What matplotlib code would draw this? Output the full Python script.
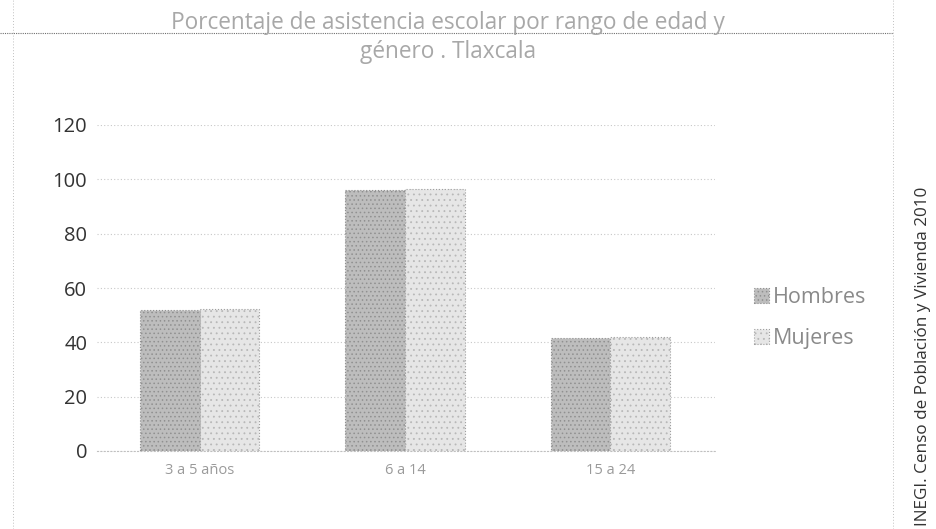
import matplotlib
matplotlib.use("Agg")
import matplotlib.pyplot as plt
import numpy as np
from matplotlib.lines import Line2D

categories = ["3 a 5 años", "6 a 14", "15 a 24"]
hombres = [51.9, 96.1, 41.5]
mujeres = [52.2, 96.5, 42.1]
yticks = [0, 20, 40, 60, 80, 100, 120]
title_l1 = "Porcentaje de asistencia escolar por rango de edad y"
title_l2 = "género . Tlaxcala"
source = "INEGI. Censo de Población y Vivienda 2010"

plt.rcParams['font.family'] = ['Open Sans', 'DejaVu Sans']
plt.rcParams['hatch.linewidth'] = 0.6

W, H = 936, 529
fig = plt.figure(figsize=(W / 100, H / 100), dpi=100)
fig.patch.set_facecolor("white")

ax = fig.add_axes([97 / W, (H - 451) / H, (715 - 97) / W, (451 - 125) / H])
x = np.arange(len(categories))
bw = 0.29
plt.rcParams['hatch.color'] = '#8a8a8a'
b1 = ax.bar(x - bw / 2, hombres, bw, color="#bdbdbd", edgecolor="#909090",
            linewidth=0.8, linestyle=":", hatch="....", label="Hombres", zorder=3)
b2 = ax.bar(x + bw / 2, mujeres, bw, color="#e6e6e6", edgecolor="#a0a0a0",
            linewidth=0.8, linestyle=":", hatch="...", label="Mujeres", zorder=3)
for p in b2:
    p._hatch_color = (0.72, 0.72, 0.72, 1.0)

ax.set_xlim(-0.5, 2.51)
ax.set_ylim(0, 120)
ax.set_yticks(yticks)
ax.set_yticklabels([str(v) for v in yticks], fontsize=14.5, color="#333333")
ax.set_xticks(x)
ax.set_xticklabels(categories, fontsize=10.5, color="#9a9a9a")
ax.tick_params(axis="both", length=0)
ax.tick_params(axis="y", pad=7)
ax.tick_params(axis="x", pad=9)
ax.grid(axis="y", color="#c8c8c8", linestyle=(0, (1, 2)), linewidth=0.8, zorder=0)
for s in ["top", "right", "left"]:
    ax.spines[s].set_visible(False)
ax.spines["bottom"].set_color("#c0c0c0")
ax.spines["bottom"].set_linestyle((0, (1, 2)))
ax.spines["bottom"].set_linewidth(0.8)

# title
fig.text(448 / W, 1 - 23 / H, title_l1, ha="center", va="center", fontsize=16.3,
         color="#a8a8a8")
fig.text(448 / W, 1 - 52 / H, title_l2, ha="center", va="center", fontsize=16.3,
         color="#a8a8a8")
# horizontal scan line
fig.add_artist(Line2D([0, 893 / W], [1 - 33 / H, 1 - 33 / H],
                      color="#707070", linewidth=0.8, linestyle=(0, (1, 1))))
# chart border lines
fig.add_artist(Line2D([13 / W, 13 / W], [0, 1], color="#c0c0c0",
                      linewidth=0.7, linestyle=(0, (1, 2))))
fig.add_artist(Line2D([893 / W, 893 / W], [0, 1], color="#c0c0c0",
                      linewidth=0.7, linestyle=(0, (1, 2))))

# legend
leg = fig.legend(handles=[b1, b2], labels=["Hombres", "Mujeres"],
                 loc="center left", bbox_to_anchor=(735 / W, 1 - 318 / H),
                 frameon=False, fontsize=15.5, labelcolor="#8a8a8a",
                 handlelength=0.7, handleheight=0.7, handletextpad=0.15,
                 labelspacing=0.95)

# source
fig.text(923 / W, 1 - 356 / H, source, rotation=90, ha="center", va="center",
         fontsize=12.3, color="#333333")

fig.savefig("out.png", dpi=100)
